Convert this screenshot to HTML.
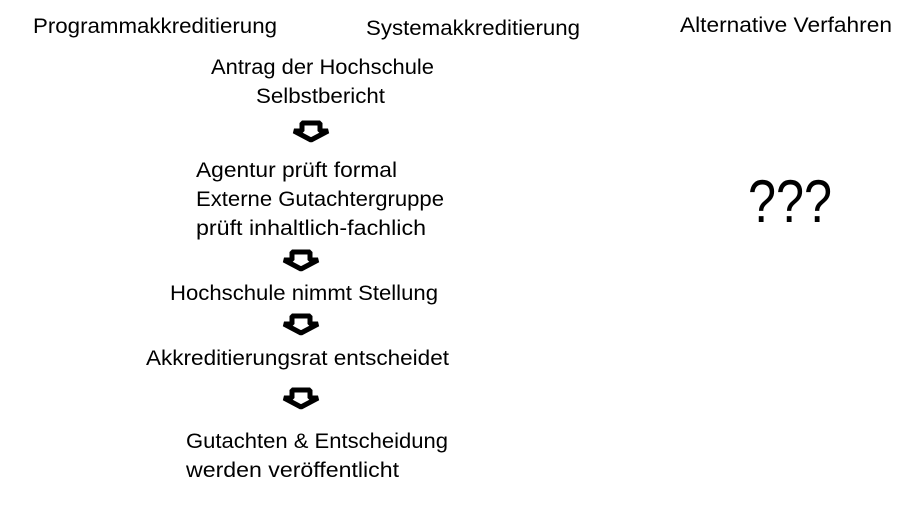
<!DOCTYPE html>
<html><head><style>html,body{margin:0;padding:0;background:#fff;}</style></head>
<body>
<svg width="914" height="504" xmlns="http://www.w3.org/2000/svg" font-family="Liberation Sans, sans-serif" font-size="21" fill="#000">
<text x="33" y="33" textLength="244" lengthAdjust="spacingAndGlyphs">Programmakkreditierung</text>
<text x="366" y="35" textLength="214" lengthAdjust="spacingAndGlyphs">Systemakkreditierung</text>
<text x="680" y="32" textLength="212" lengthAdjust="spacingAndGlyphs">Alternative Verfahren</text>
<text x="211" y="74" textLength="223" lengthAdjust="spacingAndGlyphs">Antrag der Hochschule</text>
<text x="256" y="103" textLength="129" lengthAdjust="spacingAndGlyphs">Selbstbericht</text>
<text x="196" y="177" textLength="201" lengthAdjust="spacingAndGlyphs">Agentur prüft formal</text>
<text x="196" y="206" textLength="248" lengthAdjust="spacingAndGlyphs">Externe Gutachtergruppe</text>
<text x="196" y="235" textLength="230" lengthAdjust="spacingAndGlyphs">prüft inhaltlich-fachlich</text>
<text x="170" y="300" textLength="268" lengthAdjust="spacingAndGlyphs">Hochschule nimmt Stellung</text>
<text x="146" y="365" textLength="303" lengthAdjust="spacingAndGlyphs">Akkreditierungsrat entscheidet</text>
<text x="186" y="448" textLength="262" lengthAdjust="spacingAndGlyphs">Gutachten &amp; Entscheidung</text>
<text x="186" y="477" textLength="213" lengthAdjust="spacingAndGlyphs">werden veröffentlicht</text>
<text x="748" y="222" font-size="60" textLength="84" lengthAdjust="spacingAndGlyphs">???</text>
<g fill="#fff" stroke="#000" stroke-width="5" stroke-linejoin="bevel">
<polygon points="302,123 320,123 320,131 328,131 311,140 294,131 302,131"/>
<polygon points="292,252 310,252 310,260 318,260 301,269 284,260 292,260"/>
<polygon points="292,316 310,316 310,324 318,324 301,333 284,324 292,324"/>
<polygon points="292,390 310,390 310,398 318,398 301,407 284,398 292,398"/>
</g>
</svg>
</body></html>
